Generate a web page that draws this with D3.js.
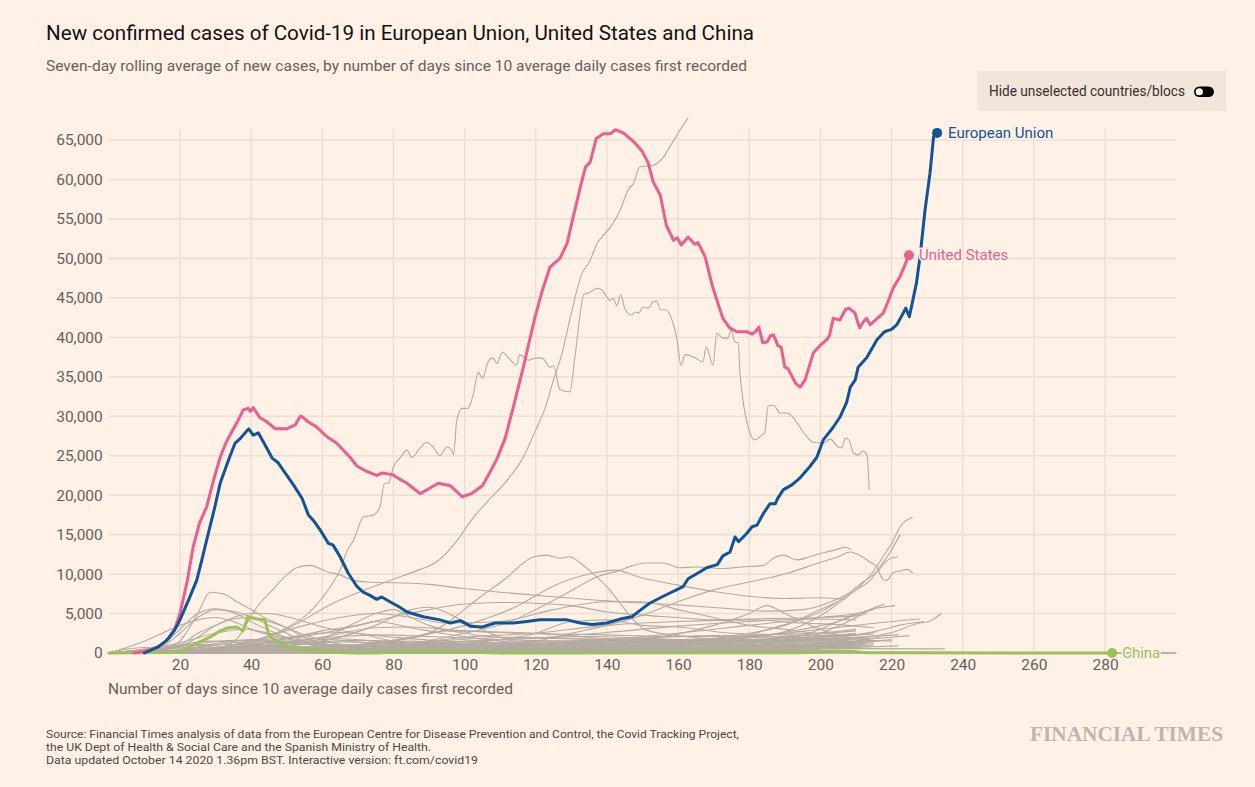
<!DOCTYPE html>
<html><head><meta charset="utf-8">
<script src="https://cdn.jsdelivr.net/npm/d3@7"></script>
<style>
html,body{margin:0;padding:0;background:#fff1e5;}
svg{display:block;}
</style></head><body>
<svg id="chart" width="1255" height="787"></svg>
<script>
// ---------- DATA (day since 10 avg daily cases, 7-day avg new cases) ----------
const xTickValues = [20,40,60,80,100,120,140,160,180,200,220,240,260,280];
const yTickValues = [0,5000,10000,15000,20000,25000,30000,35000,40000,45000,50000,55000,60000,65000];

const europeanUnion = [[10,0],[12,400],[14,800],[16,1500],[17,2000],[18.5,2900],[20,4200],[22.5,6800],[24.7,9200],[26,11500],[27.5,14300],[29.8,18500],[31.3,21500],[33.6,24400],[35.5,26600],[37,27200],[39.3,28400],[40.6,27600],[42,27900],[43.5,26700],[45.9,24700],[47.6,24100],[49.6,22800],[51.9,21300],[54.3,19600],[56.1,17500],[57.5,16800],[59.4,15600],[61.7,13900],[63,13700],[65,12200],[67.3,10100],[69.8,8400],[71.5,7700],[73.4,7300],[75.3,6800],[76.7,7100],[79,6500],[81.8,5800],[83.8,5200],[88.4,4600],[93.1,4200],[96,3800],[98.8,4100],[101.6,3400],[105,3300],[108.6,3800],[113.7,3800],[117.5,4000],[121.2,4200],[124.9,4200],[128.8,4200],[132.5,3800],[135.8,3600],[140,3800],[143.7,4300],[147,4600],[149.3,5400],[152,6300],[155,7000],[157.7,7600],[160,8100],[161.4,8400],[162.8,9400],[166.2,10300],[168,10800],[171,11200],[172.6,12300],[174.6,12800],[176,14700],[177,14100],[179.4,15200],[180.8,16000],[182.2,16200],[184,17700],[185.8,18900],[187.3,18900],[188,19600],[189.6,20700],[192,21300],[194.3,22200],[197,23600],[199,24800],[200.8,27000],[203.6,28600],[205.5,29900],[207.4,31800],[208.4,33700],[209.8,34600],[210.6,36200],[213,37400],[215.9,39700],[218,40700],[220,41000],[221.5,41600],[223.3,43100],[224,43700],[225,42600],[225.8,44300],[227,46900],[228,50200],[229.4,56100],[230.8,60800],[231.8,65400],[232.8,65900]];

const unitedStates = [[7,0],[10,200],[12,500],[14,800],[16,1500],[17,2000],[18.5,3000],[20,5000],[22,9000],[23.7,13400],[25.5,16500],[27.5,18500],[29.5,22000],[31.3,24800],[33,26700],[35.9,29100],[37.8,30800],[39.2,31000],[39.8,30600],[40.6,31100],[42.5,29800],[44.4,29300],[46.8,28400],[50,28400],[52.4,28900],[53.8,30000],[54.5,29900],[56,29300],[58.5,28600],[61.3,27400],[64,26600],[67.8,24800],[69.7,23700],[72.5,23000],[75.3,22500],[76.7,22800],[79.8,22600],[81.8,22000],[83.5,21600],[87.5,20200],[90.3,20900],[92.6,21500],[96,21200],[99.3,19800],[102,20200],[105,21200],[107,22800],[109,24500],[111.4,27200],[113.7,31200],[116.5,36200],[119.8,42600],[121.7,45700],[124,48900],[126.8,50000],[128.8,51900],[130.5,55200],[132.5,59000],[134,61600],[135.3,62200],[137,65200],[139,65800],[141,65800],[142.4,66300],[144.6,65900],[147.5,64800],[150,63500],[151.6,62100],[153,59700],[155,58000],[156.7,54200],[158.7,52300],[159.8,52600],[160.9,51700],[162.8,52700],[164.7,51800],[165.6,52000],[167.6,50200],[169.7,46400],[171.2,44300],[172.6,42400],[174.5,41200],[176.6,40700],[179.4,40700],[180.8,40400],[181.7,40700],[182.7,41300],[183.8,39300],[185,39400],[186,40200],[186.8,40300],[188,39000],[189,38700],[190,36200],[190.8,36100],[193,34200],[194.3,33700],[195.7,34600],[198,38000],[200,39000],[201.8,39700],[202.6,40300],[203.6,42400],[205.5,42200],[207,43500],[208,43700],[209.7,43100],[211,41200],[212,41900],[213,42400],[214,41600],[216,42400],[217.7,43100],[219,44500],[220.4,46200],[222.4,47700],[223.5,48900],[224.3,49800],[224.9,50400]];

const china = [[0,0],[15,50],[18,100],[20,150],[22.9,800],[25.6,1400],[28.4,2000],[31.3,2800],[33.6,3200],[36,3300],[37.7,2800],[39.1,4600],[41.6,4300],[43.9,4200],[44.8,2500],[45.8,1900],[48.1,1300],[51.8,600],[56.6,400],[61.4,200],[65,60],[70,10],[76,10],[78,120],[100,80],[105,60],[110,10],[195,30],[200,150],[204,230],[209,200],[213,40],[220,20],[282,5]];

// other countries (grey)
const otherCountries = [
 [[10,0],[20,100],[30,400],[40,1200],[52,3500],[63,6300],[72,8000],[79,9200],[87,10500],[92,11500],[98,14300],[102,16900],[106,19000],[112,21900],[116.5,24800],[120,28300],[122.6,31000],[125,34600],[127.4,38000],[130,43100],[133,48100],[135,49500],[137.5,52100],[139,52900],[141.8,54500],[143.7,56100],[146,58700],[147.5,59500],[149.3,61600],[153,61800],[155.8,62800],[158.3,64600],[160.6,66300],[162.8,67800]],
 [[8,0],[15,100],[25,300],[35,900],[45,2200],[50,3200],[55,4600],[60,7000],[63,8900],[65,10500],[67,13000],[68.8,14300],[71.5,17200],[74.4,17500],[76.2,18500],[77.5,21500],[78.6,21500],[80,23600],[81.8,24700],[83.8,25700],[85.2,24800],[87,25700],[89.4,26700],[91.3,26000],[93,25000],[95,26100],[96.4,25700],[96.9,25100],[97.8,29500],[99.3,31000],[101,31000],[102.5,32900],[103.8,35600],[105,34800],[106.6,36900],[108,37400],[109,36700],[110.7,38100],[112.2,37500],[114.6,36500],[115.5,37800],[117.9,37100],[120.3,37400],[122,37300],[124,36200],[125,36400],[126.8,33400],[129.6,33100],[131,37500],[133.6,45500],[134.7,45600],[137.2,46200],[138.6,46000],[140.9,44700],[141.8,44900],[142.8,44000],[143.9,45400],[145,43700],[146.8,42800],[148,43200],[149,43100],[150,43800],[151.6,43700],[153,44500],[154,44600],[155,43500],[156.4,43500],[158.3,42200],[159.7,39700],[160.8,36500],[162,37800],[164.8,37400],[167,36900],[167.9,38800],[169.8,36500],[170.9,40500],[172.6,39900],[174,39900],[174.9,40900],[176,39400],[176.9,39300],[177.4,35500],[178.4,31500],[179.7,28600],[181.6,27000],[183,27400],[184.4,28000],[185.3,31300],[186.8,31400],[188.7,30400],[190.6,30400],[192.4,29800],[195.2,28000],[198,26700],[200.8,26600],[202.7,27100],[205,26100],[206,26000],[207,27200],[208,27000],[209.3,25300],[210.6,25100],[212,25600],[213.1,25100],[213.7,20700]],
 [[10,0],[30,200],[50,300],[70,800],[80,1500],[90,2500],[95,3800],[99.6,5400],[104.4,7100],[112,9600],[116.5,11400],[119.4,12200],[123.2,12400],[126.8,12000],[129.6,12200],[132.5,11400],[136,10100],[140,8400],[143.7,6300],[147.4,4200],[151,2900],[160,2200],[180,1600],[200,1700],[210,1500],[215,1600]],
 [[20,50],[50,200],[70,500],[85,1200],[100,2500],[113,4000],[120,5500],[128.8,7600],[137,9600],[143.7,10500],[147.5,11100],[151,11400],[155.8,11400],[160.6,10800],[165,10900],[172,10700],[178,10900],[184,11100],[186.8,12000],[189.6,12400],[193.3,11800],[197,12200],[200.8,12700],[204.5,13100],[206.9,13400],[208.7,13100]],
 [[0,0],[20,100],[30,500],[36,1800],[41.6,5800],[46,8000],[50,9900],[52.8,10800],[56.6,11100],[61.3,10300],[65,9900],[68.7,9200],[72.5,9000],[80,8900],[90,8700],[99,8200],[110,7700],[123,7200],[140,6600],[160,6100],[175,5600],[185,5300],[195,5500],[203,6500],[208,7600],[212,9000],[216,10300],[219,11800],[221.8,12200]],
 [[0,0],[10,100],[15,400],[20,1500],[25,5000],[28.5,7700],[32,7500],[36,6500],[40,5500],[45,4200],[50,3200],[55,2000],[60,1200],[70,500],[80,300],[90,250],[100,350],[110,800],[120,1500],[130,2500],[140,3500],[150,4800],[160,6500],[170,8000],[180,9000],[190,10000],[200,11500],[205,12200],[208.3,12800],[211,12400],[214,11500],[215.9,10900],[217.3,9500],[218.6,9200],[220.5,10200],[222.4,10400],[224.3,10600],[226,10100]],
 [[0,0],[10,200],[15,800],[20,2500],[25,4500],[30,5500],[35,5300],[40,4600],[45,4000],[50,3200],[55,2300],[60,1600],[70,800],[80,400],[100,250],[120,250],[140,400],[160,1000],[180,1400],[200,1700],[210,1900],[220,2600],[227,3700],[231,4100],[234,5000]],
 [[0,0],[10,150],[20,800],[25,2000],[30,3500],[35,4500],[40,5000],[45,5000],[50,4600],[55,4000],[60,3300],[70,2500],[80,1500],[90,1000],[100,700],[110,600],[120,700],[130,800],[150,1000],[165,1500],[177.4,2000],[186.8,3200],[194.3,4200],[200.8,5400],[205.5,6700],[210,8000],[214,9200],[216.7,10900],[219.5,12700],[222.4,15000]],
 [[0,0],[10,100],[20,1000],[25,2500],[30,3500],[35,4300],[40,4500],[45,3500],[50,2500],[55,1500],[60,1000],[70,600],[80,400],[100,400],[120,500],[140,800],[155,1200],[168,1600],[182,2000],[191.5,2900],[198,4200],[203.6,5800],[207.4,7100],[211,8400],[214.8,10300],[217.6,12200],[220.5,14300],[222.4,16000],[225.9,17200]],
 [[0,0],[10,200],[15,1000],[20,3000],[25,5000],[30,5600],[33,5400],[38,4500],[42,3500],[47,2500],[52,1500],[57,1000],[65,600],[75,400],[90,400],[110,500],[130,800],[150,1400],[170,1500],[190,1900],[200,2000],[210,2300],[218,3000],[222,3500],[229,4000]],
 [[0,0],[20,100],[30,400],[40,1000],[50,1800],[60,2800],[70,3500],[80,4600],[90,5500],[100,6200],[110,6400],[120,6300],[130,6000],[140,5200],[150,4800],[160,4500],[170,4200],[180,4300],[190,4400],[200,4500],[210,4700],[213,5000]],
 [[0,0],[30,200],[50,400],[70,1000],[85,2000],[100,3500],[115,6000],[125,8500],[135,10000],[142,10500],[150,9500],[160,8600],[170,7800],[180,7200],[190,6900],[200,7000],[207,6800]],
 [[0,0],[20,200],[40,1500],[55,3500],[65,4500],[75,5000],[85,4500],[95,3800],[110,4000],[125,5500],[140,6500],[150,6500],[160,5500],[170,4500],[180,3500],[190,3000],[200,2500],[210,2800]],
 [[0,0],[10,500],[20,1300],[30,2500],[38,3000],[45,2500],[55,1500],[65,1000],[75,1300],[85,2000],[95,2800],[105,2700],[115,2500],[125,2400],[140,2300],[155,2100],[170,2100],[185,2300],[200,3000],[210,3500],[220,4000],[228,4300]],
 [[0,0],[10,300],[20,1000],[28,1500],[35,1400],[45,900],[55,500],[70,250],[90,100],[110,200],[130,400],[150,500],[170,700],[190,1500],[200,2500],[210,4500],[214,5500],[218,6200]],
 [[0,0],[10,300],[20,900],[30,1100],[40,1000],[50,600],[60,300],[80,150],[100,100],[120,300],[140,600],[160,1200],[180,2000],[195,3000],[205,4000],[215,5600],[221,6000]],
 [[0,0],[10,1500],[15,2500],[20,3500],[25,4200],[30,4500],[35,4000],[40,3000],[50,1800],[60,1100],[70,1000],[80,1200],[90,1100],[100,1000],[110,1000],[120,1100],[140,1400],[160,1600],[180,1700],[200,1700],[207,1600]],
 [[0,0],[20,300],[30,400],[40,500],[50,800],[60,1800],[70,4000],[75,5000],[80,5500],[85,4500],[90,3500],[100,2500],[110,2000],[130,1800],[150,1700],[170,1600],[200,1500],[215,1400]],
 [[0,0],[15,500],[25,1200],[35,1600],[45,1500],[55,1200],[65,800],[75,400],[90,300],[110,350],[130,450],[150,600],[170,1100],[190,1800],[205,2200],[215,2400]],
 [[0,0],[20,100],[30,500],[40,1100],[50,1800],[60,2500],[70,3500],[75,4000],[85,3200],[95,2400],[110,1500],[130,800],[150,500],[170,400],[190,400],[205,350]],
 [[0,0],[20,200],[40,600],[60,1500],[75,3500],[85,5500],[90,5800],[100,4000],[110,2000],[120,900],[140,500],[160,600],[180,700],[200,650],[210,600]],
 [[0,0],[20,100],[40,700],[60,2000],[75,3200],[85,3300],[100,2800],[120,2500],[140,1800],[160,1500],[180,1300],[195,1300],[205,1400]],
 [[0,0],[20,150],[40,350],[60,600],[80,1000],[100,1500],[120,1900],[140,2600],[160,3400],[180,4000],[195,4300],[210,4200]],
 [[0,0],[20,200],[40,200],[60,300],[80,600],[100,1200],[120,2500],[130,4000],[140,4200],[150,3500],[160,3300],[175,2500],[190,2300],[200,2200],[210,2300]],
 [[0,0],[30,100],[60,200],[80,900],[100,2000],[120,2500],[140,3500],[160,4000],[180,4200],[195,3800],[205,3600],[215,3200]],
 [[0,0],[20,300],[30,500],[40,400],[50,200],[70,50],[90,200],[110,800],[130,1500],[150,1800],[170,3500],[180,5000],[185,6000],[190,5000],[200,3000],[210,1800],[220,1500]],
 [[0,0],[20,100],[40,400],[60,450],[80,600],[100,800],[120,1000],[140,1700],[160,2500],[180,3500],[200,4500],[210,5000],[215,5500]],
 [[0,0],[20,250],[40,350],[60,400],[80,300],[100,400],[120,700],[140,600],[160,700],[180,1000],[190,1600],[200,3000],[205,4000],[210,5000]],
 [[0,0],[20,200],[40,100],[60,60],[80,100],[100,150],[120,200],[140,400],[160,900],[170,1800],[180,2500],[190,3500],[200,5500],[205,6500]],
 [[0,0],[20,300],[40,350],[60,250],[80,300],[100,700],[120,1100],[140,1200],[160,1300],[180,1600],[200,2500],[210,3000]],
 [[0,0],[10,100],[20,800],[25,1000],[30,700],[40,600],[60,800],[80,500],[100,700],[120,900],[140,800],[160,1000],[180,800],[200,900]],
 [[0,0],[30,50],[60,200],[80,700],[100,1200],[120,1300],[140,700],[160,400],[180,300],[200,250]],
 [[0,0],[30,100],[50,300],[70,800],[85,1500],[95,1200],[110,600],[130,200],[150,150],[180,120],[200,130]],
 [[0,0],[20,50],[40,500],[50,400],[60,100],[80,50],[110,400],[130,1000],[140,1200],[150,900],[170,550],[190,500],[210,550],[235,520]],
 [[0,0],[5,500],[10,700],[15,400],[25,100],[40,80],[60,30],[90,50],[120,40],[160,150],[175,300],[185,250],[200,100],[230,80],[237,80]],
 [[0,0],[30,500],[50,600],[70,900],[90,1000],[110,400],[130,250],[150,200],[170,300],[190,600],[215,800],[222,900]],
 [[0,0],[15,700],[22,1100],[30,900],[40,400],[60,50],[100,100],[130,200],[160,350],[180,500],[200,800],[210,1500],[217,2000]],
 [[0,0],[15,500],[25,700],[35,500],[55,300],[80,300],[110,250],[140,300],[170,500],[190,700],[205,900],[215,1200]],
 [[0,0],[12,500],[18,700],[25,500],[35,100],[60,50],[100,100],[130,150],[160,300],[180,500],[200,800],[215,1000]],
 [[0,0],[30,100],[60,100],[90,200],[120,700],[140,1100],[160,1600],[175,2000],[190,2400],[205,2600]],
 [[0,0],[40,50],[80,200],[100,400],[130,500],[160,800],[180,1200],[200,2000],[210,2500]],
 [[0,0],[40,200],[80,300],[100,600],[120,1000],[140,800],[160,500],[180,400],[200,400]],
 [[0,0],[40,100],[70,300],[90,700],[110,1000],[130,800],[150,600],[170,500],[190,600],[200,650]],
 [[0,0],[30,100],[60,700],[80,900],[100,700],[130,600],[160,600],[190,700],[210,650]],
 [[0,0],[20,100],[40,600],[55,1500],[65,1800],[75,1500],[90,800],[110,400],[140,250],[170,200],[200,220]],
 [[0,0],[20,100],[35,700],[45,900],[55,800],[70,600],[90,200],[120,150],[150,200],[180,400],[200,500]],
 [[0,0],[40,50],[100,20],[150,100],[170,500],[185,800],[200,900],[210,1000]],
 [[0,0],[40,300],[70,500],[90,600],[110,500],[130,300],[150,200],[170,150],[190,150]],
 [[0,0],[30,50],[60,300],[80,800],[100,1200],[115,1100],[130,600],[150,300],[180,200],[200,400]],
 [[0,0],[40,50],[70,400],[90,900],[110,700],[130,500],[150,300],[170,200],[190,300],[205,300]],
 [[0,0],[25,200],[45,1200],[60,1900],[75,2300],[90,2100],[110,1700],[130,1500],[150,1900],[170,2200],[190,2000],[208,1800]],
 [[0,0],[30,300],[50,1000],[65,1400],[80,1200],[100,900],[120,1100],[140,1500],[160,1300],[180,1000],[200,1100],[212,1300]],
 [[0,0],[20,150],[35,400],[55,700],[75,900],[95,1300],[115,1800],[135,2100],[155,1800],[175,1500],[195,1600],[214,1900]],
 [[0,0],[30,100],[50,250],[70,450],[90,600],[110,700],[130,900],[150,1200],[170,1400],[190,1700],[205,1900],[222,2300]],
 [[0,0],[20,400],[30,1200],[40,1700],[50,1500],[60,1100],[80,700],[100,600],[130,700],[160,900],[190,1200],[212,1500]],
 [[0,0],[25,300],[40,900],[55,1300],[70,1600],[90,1300],[110,1000],[130,1200],[150,1600],[170,1800],[190,2100],[210,2400]],
 [[0,0],[15,200],[30,600],[45,800],[60,700],[80,500],[100,400],[120,600],[140,900],[160,1100],[180,1000],[200,1200],[216,1500]],
 [[0,0],[35,100],[55,400],[75,900],[95,1600],[115,2000],[135,1700],[155,1300],[175,1100],[195,1000],[210,1100]],
 [[0,0],[20,100],[40,300],[60,500],[80,600],[100,800],[120,900],[140,1000],[160,1100],[180,1300],[200,1600],[220,2000],[225,2200]],
 [[0,0],[30,200],[45,1500],[55,2300],[65,2600],[80,2000],[95,1500],[115,1200],[140,1000],[165,900],[190,1000],[210,1100]],
 [[0,0],[25,100],[50,350],[75,600],[100,1100],[125,1500],[150,1300],[175,900],[200,700],[214,800]],
 [[0,0],[20,50],[45,150],[70,250],[100,300],[130,350],[160,500],[190,800],[210,1300],[220,1700]],
 [[0,0],[30,700],[40,1500],[50,2000],[60,1800],[70,1400],[90,900],[110,800],[140,900],[170,1000],[200,900],[211,800]],
 [[0,0],[40,150],[70,400],[100,800],[130,1300],[160,1700],[190,1400],[213,1200]],
 [[0,0],[18,300],[28,900],[38,1400],[48,1300],[60,1000],[80,800],[100,900],[120,1000],[140,1200],[160,1400],[180,1500],[200,1800],[216,2700]]
];

// ---------- TEXT ----------
const titleText = "New confirmed cases of Covid-19 in European Union, United States and China";
const subtitleText = "Seven-day rolling average of new cases, by number of days since 10 average daily cases first recorded";
const xAxisTitle = "Number of days since 10 average daily cases first recorded";
const sourceLines = [
 "Source: Financial Times analysis of data from the European Centre for Disease Prevention and Control, the Covid Tracking Project,",
 "the UK Dept of Health & Social Care and the Spanish Ministry of Health.",
 "Data updated October 14 2020 1.36pm BST. Interactive version: ft.com/covid19"
];

// ---------- DRAW ----------
const svg = d3.select("#chart");
const FONT = "Roboto, 'Noto Sans', sans-serif";
const BG = "#fff1e5";

svg.append("rect").attr("width",1255).attr("height",787).attr("fill",BG);

const x = d3.scaleLinear().domain([0,300]).range([108.8,1176.2]);
const y = d3.scaleLinear().domain([0,65000]).range([653,140]);

function fit(sel, w){ sel.attr("textLength", w).attr("lengthAdjust","spacingAndGlyphs"); return sel; }

// title & subtitle
fit(svg.append("text").attr("x",46).attr("y",39.5).attr("font-family",FONT).attr("font-size",20)
  .attr("fill","#111").text(titleText), 708);
fit(svg.append("text").attr("x",46).attr("y",71).attr("font-family",FONT).attr("font-size",15.5)
  .attr("fill","#66605c").text(subtitleText), 701);

// toggle box
const tg = svg.append("g");
tg.append("rect").attr("x",977).attr("y",71).attr("width",249).attr("height",40).attr("fill","#f2e5da");
fit(tg.append("text").attr("x",989).attr("y",96).attr("font-family",FONT).attr("font-size",14)
  .attr("fill","#33302e").text("Hide unselected countries/blocs"), 196);
tg.append("rect").attr("x",1194).attr("y",86.5).attr("width",20).attr("height",10.5).attr("rx",5.25).attr("fill","#000");
tg.append("circle").attr("cx",1199.3).attr("cy",91.75).attr("r",3.6).attr("fill","#fff");

// grid
const grid = svg.append("g");
grid.selectAll("line.v").data(xTickValues).join("line")
  .attr("x1",d=>x(d)).attr("x2",d=>x(d)).attr("y1",129).attr("y2",y(0))
  .attr("stroke","#e9dbcf").attr("stroke-width",1.2);
grid.selectAll("line.h").data(yTickValues).join("line")
  .attr("x1",x(0)).attr("x2",x(300)).attr("y1",d=>y(d)).attr("y2",d=>y(d))
  .attr("stroke","#ecdfd3").attr("stroke-width",1.6);

// axes
const yAxis = svg.append("g").attr("transform",`translate(${x(0)},0)`)
  .call(d3.axisLeft(y).tickValues(yTickValues).tickFormat(d3.format(",")).tickSize(0).tickPadding(6));
const xAxis = svg.append("g").attr("transform",`translate(0,${y(0)})`)
  .call(d3.axisBottom(x).tickValues(xTickValues).tickSize(0).tickPadding(5.5));
[yAxis,xAxis].forEach(a=>{
  a.select(".domain").remove();
  a.selectAll("text").attr("font-family",FONT).attr("font-size",15.5).attr("fill","#66605c");
});
fit(svg.append("text").attr("x",108).attr("y",694).attr("font-family",FONT).attr("font-size",15)
  .attr("fill","#66605c").text(xAxisTitle), 405);

// zero baseline
svg.append("line").attr("x1",x(0)).attr("x2",x(300)).attr("y1",y(0)).attr("y2",y(0))
  .attr("stroke","#a8a09a").attr("stroke-width",1.5);

// lines
const lineSmooth = d3.line().x(d=>x(d[0])).y(d=>y(d[1])).curve(d3.curveMonotoneX);
const lineRaw = d3.line().x(d=>x(d[0])).y(d=>y(d[1]));

svg.append("g").selectAll("path").data(otherCountries).join("path")
  .attr("d",lineSmooth).attr("fill","none").attr("stroke","#b5aaa2").attr("stroke-width",1.1)
  .attr("stroke-linejoin","round");

const mains = [
  {data:china, color:"#98c25a", label:"China", dx:10, dy:5},
  {data:unitedStates, color:"#eb5e8d", label:"United States", dx:10, dy:5},
  {data:europeanUnion, color:"#0f5499", label:"European Union", dx:11, dy:5}
];
mains.forEach(m=>{
  svg.append("path").attr("d",lineRaw(m.data)).attr("fill","none")
    .attr("stroke",m.color).attr("stroke-width",3).attr("stroke-linejoin","round").attr("stroke-linecap","round");
});
mains.forEach(m=>{
  const last = m.data[m.data.length-1];
  svg.append("circle").attr("cx",x(last[0])).attr("cy",y(last[1])).attr("r",5).attr("fill",m.color);
  svg.append("text").attr("x",x(last[0])+m.dx).attr("y",y(last[1])+m.dy)
    .attr("font-family",FONT).attr("font-size",15).attr("fill",m.color)
    .attr("stroke",BG).attr("stroke-width",3).attr("paint-order","stroke").attr("stroke-linejoin","round")
    .text(m.label);
});

// source
sourceLines.forEach((s,i)=>{
  const t = svg.append("text").attr("x",46).attr("y",737.5+i*13.3).attr("font-family",FONT)
    .attr("font-size",11.8).attr("fill","#4e4845").text(s);
  if(i===0) fit(t,693);
  if(i===1) fit(t,385);
  if(i===2) fit(t,432);
});

// FT logo
fit(svg.append("text").attr("x",1030).attr("y",741).attr("font-family","'Liberation Serif','DejaVu Serif',serif")
  .attr("font-weight","bold").attr("font-size",21).attr("fill","#bdb5ae").text("FINANCIAL TIMES"), 193);
</script>
</body></html>
